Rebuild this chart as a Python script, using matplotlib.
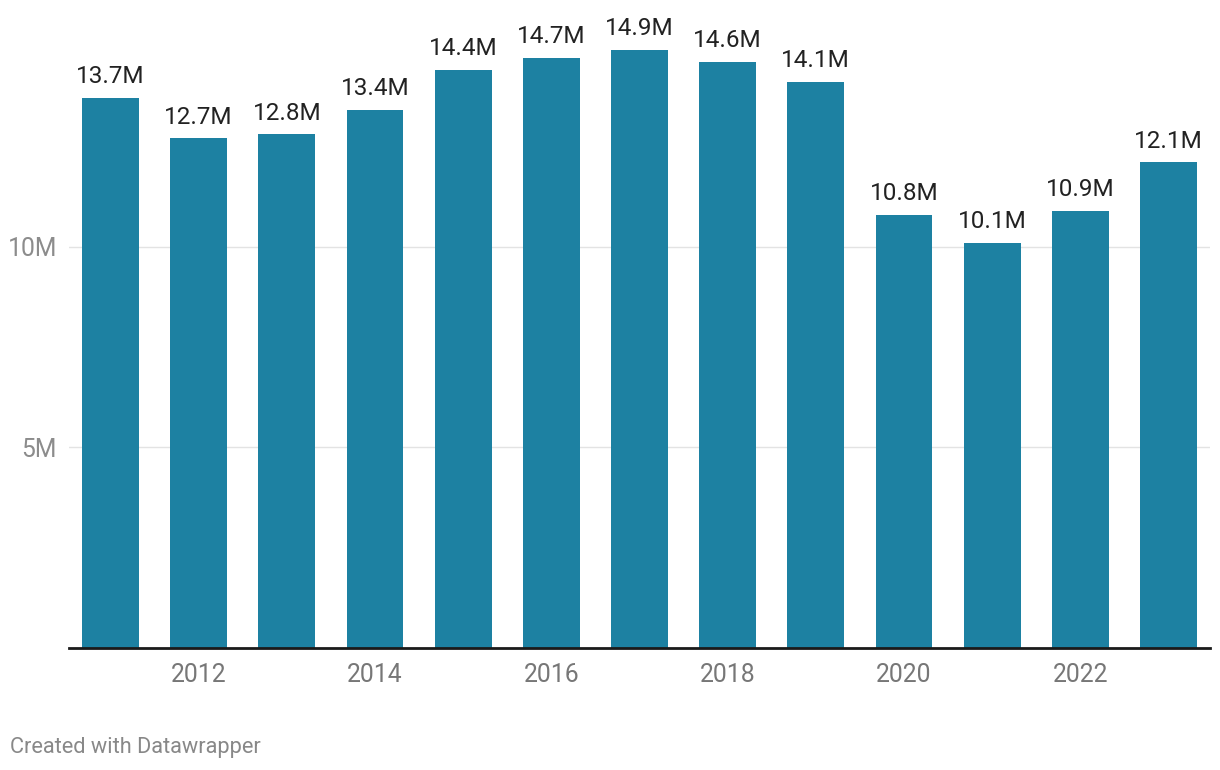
import matplotlib.pyplot as plt

years = list(range(2011, 2024))
values = [13.7, 12.7, 12.8, 13.4, 14.4, 14.7, 14.9, 14.6, 14.1, 10.8, 10.1, 10.9, 12.1]
labels = ['13.7M', '12.7M', '12.8M', '13.4M', '14.4M', '14.7M', '14.9M',
          '14.6M', '14.1M', '10.8M', '10.1M', '10.9M', '12.1M']
tick_years = [2012, 2014, 2016, 2018, 2020, 2022]
y_ticks = [5, 10]
y_tick_labels = ['5M', '10M']

plt.rcParams['font.family'] = ['Roboto', 'DejaVu Sans']

fig = plt.figure(figsize=(12.2, 7.7), dpi=100)
ax = fig.add_axes([69 / 1220, 122 / 770, 1141 / 1220, 602 / 770])

bars = ax.bar(years, values, width=0.646, color='#1d81a2', zorder=3)
for b, lab in zip(bars, labels):
    ax.annotate(lab, (b.get_x() + b.get_width() / 2, b.get_height()),
                xytext=(0, 7), textcoords='offset points',
                ha='center', va='bottom', fontsize=17.5, color='#222222')

ax.set_xlim(2011 - 0.4707, 2023 + 0.4707)
ax.set_ylim(0, 15)

ax.set_yticks(y_ticks)
ax.set_yticklabels(y_tick_labels)
ax.set_xticks(tick_years)
ax.set_xticklabels([str(y) for y in tick_years])
ax.tick_params(axis='y', length=0, pad=8.6, labelsize=17.8, labelcolor='#8c8c8c')
ax.tick_params(axis='x', length=0, pad=10.8, labelsize=17.8, labelcolor='#777777')
ax.grid(axis='y', color='#e3e3e3', linewidth=1, zorder=0)

for s in ['top', 'right', 'left']:
    ax.spines[s].set_visible(False)
ax.spines['bottom'].set_color('#1a1a1a')
ax.spines['bottom'].set_linewidth(2)
ax.spines['bottom'].set_zorder(4)

fig.text(10 / 1220, 1 - 748 / 770, 'Created with Datawrapper', fontsize=15.7,
         color='#888888', ha='left', va='center')

fig.savefig('out.png', dpi=100)
